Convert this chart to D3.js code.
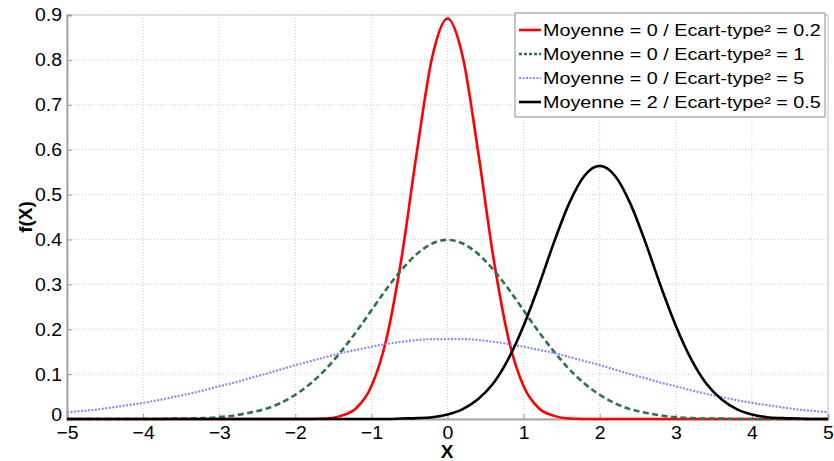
<!DOCTYPE html>
<html><head><meta charset="utf-8">
<script src="https://cdn.jsdelivr.net/npm/d3@7"></script>
<style>
body{margin:0;background:#fff;}
svg{display:block;font-family:"Liberation Sans",Arial,sans-serif;}
</style></head>
<body><svg id="c" width="834" height="461"></svg>
<script>
// ---- data ----
const xs = [-5,-4.8,-4.6,-4.4,-4.2,-4,-3.8,-3.6,-3.4,-3.2,-3,-2.8,-2.6,-2.4,-2.2,-2,-1.8,-1.6,-1.4,-1.2,-1,-0.8,-0.6,-0.4,-0.2,0,0.2,0.4,0.6,0.8,1,1.2,1.4,1.6,1.8,2,2.2,2.4,2.6,2.8,3,3.2,3.4,3.6,3.8,4,4.2,4.4,4.6,4.8,5];
const redVals   = [0,0,0,0,0,0,0,0,0,0,0,0,0,0,0,0,0,0.001,0.007,0.024,0.073,0.180,0.363,0.598,0.807,0.892,0.807,0.598,0.363,0.180,0.073,0.024,0.007,0.001,0,0,0,0,0,0,0,0,0,0,0,0,0,0,0,0,0];
const greenVals = [0,0,0,0,0,0,0,0.001,0.001,0.002,0.004,0.008,0.014,0.022,0.035,0.054,0.079,0.111,0.150,0.194,0.242,0.290,0.333,0.368,0.391,0.399,0.391,0.368,0.333,0.290,0.242,0.194,0.150,0.111,0.079,0.054,0.035,0.022,0.014,0.008,0.004,0.002,0.001,0.001,0,0,0,0,0,0,0];
const blueVals  = [0.015,0.018,0.021,0.026,0.031,0.036,0.042,0.049,0.056,0.064,0.073,0.081,0.091,0.100,0.110,0.120,0.129,0.138,0.147,0.154,0.161,0.167,0.172,0.176,0.178,0.178,0.178,0.176,0.172,0.167,0.161,0.154,0.147,0.138,0.129,0.120,0.110,0.100,0.091,0.081,0.073,0.064,0.056,0.049,0.042,0.036,0.031,0.026,0.021,0.018,0.015];
const blackVals = [0,0,0,0,0,0,0,0,0,0,0,0,0,0,0,0,0,0,0,0,0,0,0.001,0.002,0.004,0.010,0.022,0.044,0.079,0.134,0.208,0.297,0.394,0.481,0.542,0.564,0.542,0.481,0.394,0.297,0.208,0.134,0.079,0.044,0.022,0.010,0.004,0.002,0.001,0,0];
const seriesNames = ["Moyenne = 0 / Ecart-type\u00b2 = 0.2","Moyenne = 0 / Ecart-type\u00b2 = 1","Moyenne = 0 / Ecart-type\u00b2 = 5","Moyenne = 2 / Ecart-type\u00b2 = 0.5"];
const xTicks = [-5,-4,-3,-2,-1,0,1,2,3,4,5];
const yTicks = [0,0.1,0.2,0.3,0.4,0.5,0.6,0.7,0.8,0.9];
const xLabel = "X", yLabel = "f(X)";

const seriesVals = [redVals, greenVals, blueVals, blackVals];
const styles = [
  {color:"#ff0000", w:2.6, dash:null, legDash:null},
  {color:"#2e7252", w:2.6, dash:"6,3.5", legDash:"3,2"},
  {color:"#8a8aff", w:2.2, dash:"2,1.5", legDash:"2,1.5"},
  {color:"#000000", w:2.6, dash:null, legDash:null}
];

const svg = d3.select("#c");
const L=67, R=828, T=15, B=419;
const x = d3.scaleLinear().domain([-5,5]).range([L,R]);
const y = d3.scaleLinear().domain([0,0.9]).range([B,T]);

// grid
const grid = svg.append("g");
grid.selectAll(".gx").data(xTicks).join("line")
  .attr("x1",d=>x(d)).attr("x2",d=>x(d)).attr("y1",T).attr("y2",B)
  .attr("stroke","#cfcfcf").attr("stroke-width",1).attr("stroke-dasharray","1,2");
grid.selectAll(".gy").data(yTicks).join("line")
  .attr("x1",L).attr("x2",R).attr("y1",d=>y(d)).attr("y2",d=>y(d))
  .attr("stroke","#cfcfcf").attr("stroke-width",1).attr("stroke-dasharray","1,2");

// box
svg.append("rect").attr("x",L).attr("y",T).attr("width",R-L).attr("height",B-T)
  .attr("fill","none").attr("stroke","#c8c8c8").attr("stroke-width",1);

// axes
const sx = 1.05;
const ax = svg.append("g").attr("transform",`translate(0,${B})`)
  .call(d3.axisBottom(x).tickValues(xTicks).tickFormat(d3.format("d")).tickSize(-5).tickPadding(7));
const ay = svg.append("g").attr("transform",`translate(${L},0)`)
  .call(d3.axisLeft(y).tickValues(yTicks).tickFormat(d=>d===0?"0":d3.format(".1f")(d)).tickSize(-5).tickPadding(5));
[ax,ay].forEach(g=>{
  g.select(".domain").attr("stroke","#a8a8a8").attr("stroke-width",2);
  g.selectAll(".tick line").attr("stroke","#9a9a9a").attr("stroke-width",1);
  g.selectAll(".tick text").attr("fill","#000").attr("font-size","18.5px")
    .attr("font-family","'Liberation Sans',Arial,sans-serif");
});
ay.selectAll(".tick text").attr("x",-5/sx).attr("transform",`scale(${sx},1)`)
  .attr("dy",d=>d===0?"0.1em":"0.32em");
ax.selectAll(".tick text").attr("transform",`scale(${sx},1)`);

// curves
const line = d3.line().x((d,i)=>x(xs[i])).y(d=>y(d)).curve(d3.curveMonotoneX);
seriesVals.forEach((vals,k)=>{
  const s = styles[k];
  const p = svg.append("path").datum(vals).attr("d",line)
    .attr("fill","none").attr("stroke",s.color).attr("stroke-width",s.w)
    .attr("stroke-linejoin","round");
  if(s.dash) p.attr("stroke-dasharray",s.dash);
});

// axis labels
svg.append("text").text(xLabel).attr("x",447).attr("y",458).attr("text-anchor","middle")
  .attr("font-weight","bold").attr("font-size","19px");
svg.append("text").text(yLabel).attr("transform","translate(32,217) rotate(-90)")
  .attr("text-anchor","middle").attr("font-weight","bold").attr("font-size","19px");

// legend
const lg = svg.append("g");
lg.append("rect").attr("x",515).attr("y",13).attr("width",310).attr("height",104)
  .attr("fill","#fff").attr("stroke","#8c8c8c").attr("stroke-width",1);
const lsx = 1.22;
seriesNames.forEach((name,k)=>{
  const s = styles[k];
  const cy = 30 + k*24;
  const l = lg.append("line").attr("x1",519).attr("x2",541).attr("y1",cy).attr("y2",cy)
    .attr("stroke",s.color).attr("stroke-width",s.w);
  if(s.legDash) l.attr("stroke-dasharray",s.legDash);
  lg.append("text").text(name).attr("transform",`translate(543,${cy+6}) scale(${lsx},1)`)
    .attr("font-size","16.2px").attr("fill","#000");
});
</script></body></html>
